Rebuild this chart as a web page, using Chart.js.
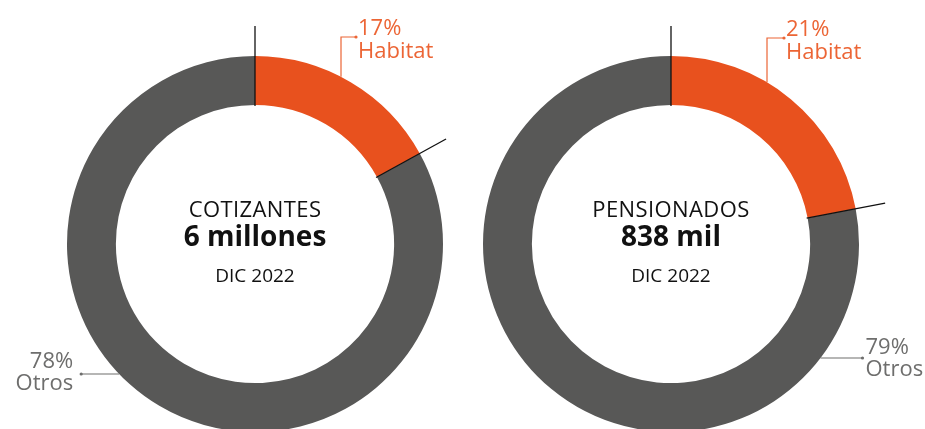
<!DOCTYPE html>
<html>
<head>
<meta charset="utf-8">
<script src="https://cdn.jsdelivr.net/npm/chart.js@4"></script>
<style>
    html, body { margin: 0; padding: 0; background: #ffffff; overflow: hidden; width: 925px; height: 429px; }
    .chart-box { position: absolute; top: 0; height: 480px; }
</style>
</head>
<body>
<div class="chart-box" id="boxLeft" style="left:0px; width:460px;"><canvas id="cotizantes"></canvas></div>
<div class="chart-box" id="boxRight" style="left:441px; width:484px;"><canvas id="pensionados"></canvas></div>
<script>
// data
const categories = ['Habitat', 'Otros'];
const cotizantesShare = [17, 83];
const pensionadosShare = [22, 78];
const habitatLabels = ['17%', '21%'];
const otrosLabels = ['78%', '79%'];
const centerTitles = ['COTIZANTES', 'PENSIONADOS'];
const centerValues = ['6 millones', '838 mil'];
const centerDates = ['DIC 2022', 'DIC 2022'];

const ORANGE = '#E8511E';
const ORANGE_TEXT = '#EC6535';
const GREY = '#585857';
const GREY_TEXT = '#6E6E6D';
const FONT = '"Open Sans", "Noto Sans", sans-serif';

// draws separators, centre text and the two callouts
const calloutPlugin = {
    id: 'callouts',
    afterDatasetsDraw(chart, args, opts) {
        const arc = chart.getDatasetMeta(0).data[0];
        const ctx = chart.ctx;
        const cx = arc.x, cy = arc.y;
        const rIn = arc.innerRadius, rOut = arc.outerRadius;
        ctx.save();

        // black separator ticks at both ends of the Habitat slice
        ctx.strokeStyle = '#111111';
        ctx.lineWidth = 1.3;
        [arc.startAngle, arc.endAngle].forEach(a => {
            ctx.beginPath();
            ctx.moveTo(cx + Math.cos(a) * (rIn - 1), cy + Math.sin(a) * (rIn - 1));
            ctx.lineTo(cx + Math.cos(a) * (rOut + 30), cy + Math.sin(a) * (rOut + 30));
            ctx.stroke();
        });

        // centre text
        ctx.fillStyle = '#111111';
        ctx.textAlign = 'center';
        ctx.textBaseline = 'alphabetic';
        ctx.font = '22px ' + FONT;
        ctx.letterSpacing = '0.4px';
        ctx.fillText(opts.title, cx, cy - 27);
        ctx.letterSpacing = '0px';
        ctx.font = 'bold 28px ' + FONT;
        ctx.fillText(opts.value, cx, cy + 2);
        ctx.font = '19px ' + FONT;
        ctx.fillText(opts.date, cx, cy + 38);

        // Habitat callout
        const hx = cx + opts.habitatDx;
        const hy = cy - Math.sqrt(rOut * rOut - opts.habitatDx * opts.habitatDx);
        const topY = opts.habitatTopY;
        ctx.strokeStyle = ORANGE_TEXT;
        ctx.lineWidth = 1.2;
        ctx.beginPath();
        ctx.moveTo(hx, hy);
        ctx.lineTo(hx, topY);
        ctx.lineTo(hx + opts.habitatTextDx - 2, topY);
        ctx.stroke();
        ctx.fillStyle = ORANGE_TEXT;
        ctx.beginPath();
        ctx.arc(hx + opts.habitatTextDx - 2, topY, 1.6, 0, Math.PI * 2);
        ctx.fill();
        ctx.textAlign = 'left';
        ctx.font = '22px ' + FONT;
        ctx.fillText(opts.habitatPct, hx + opts.habitatTextDx, topY - 2);
        ctx.fillText(categories[0], hx + opts.habitatTextDx, topY + 21);

        // Otros callout
        const oy = cy + opts.otrosDy;
        const side = opts.otrosSide;
        const ox = cx + side * Math.sqrt(rOut * rOut - opts.otrosDy * opts.otrosDy);
        const endX = ox + side * opts.otrosLen;
        ctx.strokeStyle = GREY_TEXT;
        ctx.beginPath();
        ctx.moveTo(ox, oy);
        ctx.lineTo(endX, oy);
        ctx.stroke();
        ctx.fillStyle = GREY_TEXT;
        ctx.beginPath();
        ctx.arc(endX, oy, 1.6, 0, Math.PI * 2);
        ctx.fill();
        ctx.textAlign = side < 0 ? 'right' : 'left';
        ctx.font = '22px ' + FONT;
        const tx = endX + side * opts.otrosGap;
        ctx.fillText(opts.otrosPct, tx, oy + opts.otrosTextDy);
        ctx.fillText(categories[1], tx, oy + opts.otrosTextDy + 22);

        ctx.restore();
    }
};

function makeDonut(canvasId, values, padding, callouts) {
    const ctx = document.getElementById(canvasId).getContext('2d');
    return new Chart(ctx, {
        type: 'doughnut',
        data: {
            labels: categories,
            datasets: [{
                data: values,
                backgroundColor: [ORANGE, GREY],
                borderWidth: 0
            }]
        },
        options: {
            responsive: true,
            maintainAspectRatio: false,
            animation: false,
            cutout: '74%',
            layout: { padding: padding },
            plugins: {
                legend: { display: false },
                tooltip: { enabled: false },
                callouts: callouts
            }
        },
        plugins: [calloutPlugin]
    });
}

makeDonut('cotizantes', cotizantesShare,
    { left: 67, right: 17, top: 56, bottom: 48 },
    {
        title: centerTitles[0], value: centerValues[0], date: centerDates[0],
        habitatPct: habitatLabels[0], habitatDx: 86, habitatTopY: 37, habitatTextDx: 17,
        otrosPct: otrosLabels[0], otrosDy: 130, otrosSide: -1, otrosLen: 38, otrosGap: 8, otrosTextDy: -6
    });

makeDonut('pensionados', pensionadosShare,
    { left: 42, right: 66, top: 56, bottom: 48 },
    {
        title: centerTitles[1], value: centerValues[1], date: centerDates[1],
        habitatPct: habitatLabels[1], habitatDx: 96, habitatTopY: 38, habitatTextDx: 19,
        otrosPct: otrosLabels[1], otrosDy: 114, otrosSide: 1, otrosLen: 42, otrosGap: 3, otrosTextDy: -4
    });
</script>
</body>
</html>
